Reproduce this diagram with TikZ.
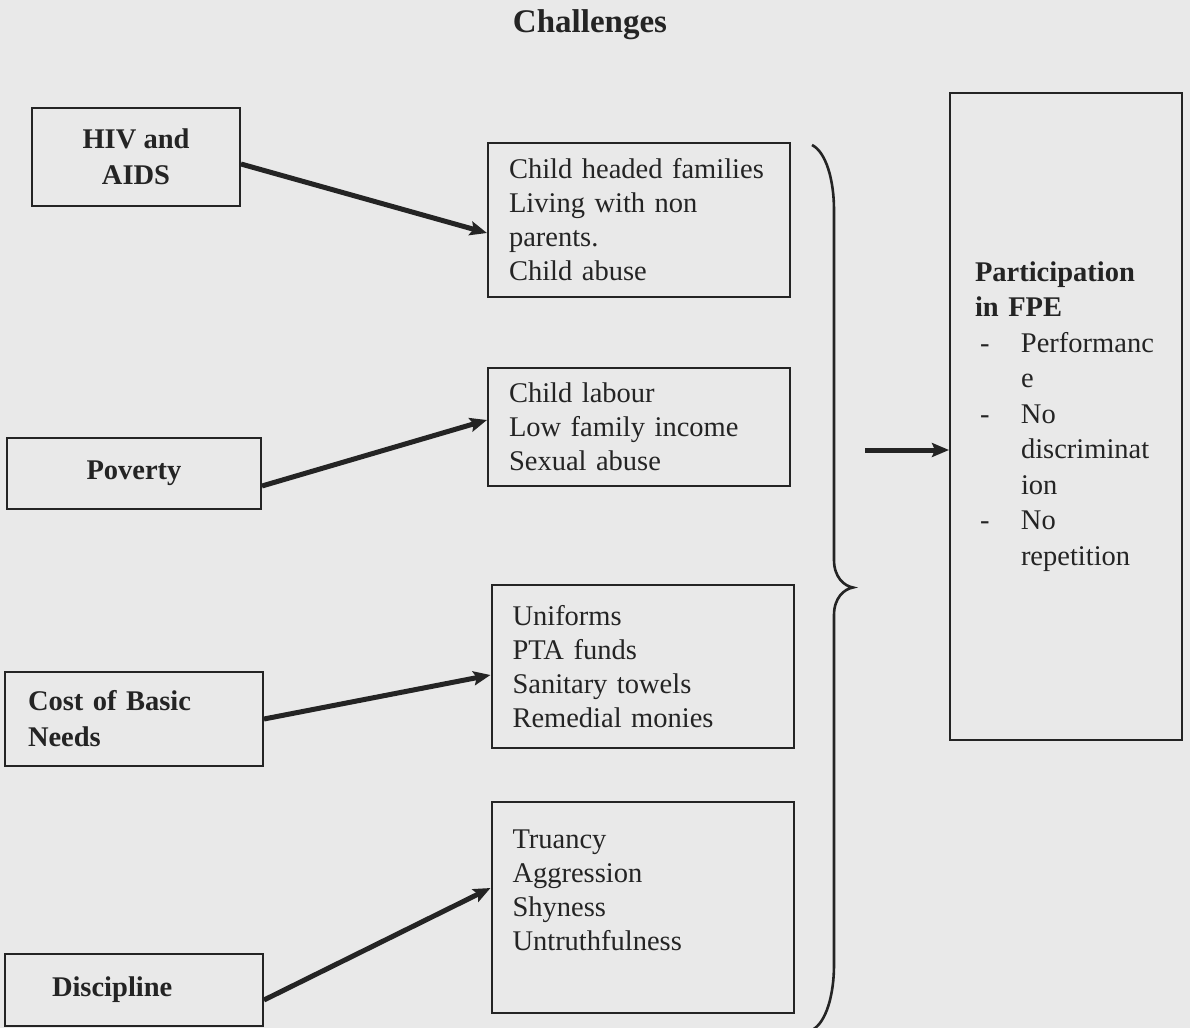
\documentclass[tikz,border=0pt]{standalone}
\usepackage{fontspec}
\setmainfont{Liberation Serif}
\usetikzlibrary{arrows.meta}

\definecolor{paper}{RGB}{233,233,233}
\definecolor{ink}{RGB}{36,36,36}

\newcommand{\fpedash}{\makebox[23pt][l]{\hspace{2.5pt}-}}
\newcommand{\fpegap}{\hspace*{23pt}}

\begin{document}
\begin{tikzpicture}[x=0.5pt,y=-0.5pt,
    box/.style={draw=ink, line width=1pt, text=ink, inner ysep=0pt,
        font=\fontsize{14.25}{17}\selectfont},
    cause/.style={box, font=\fontsize{14.25}{18}\selectfont\bfseries},
    effect/.style={box, minimum width=151pt, text width=130pt, inner xsep=10.5pt, align=left},
    link/.style={draw=ink, line width=2.5pt, -{Stealth[length=8.5pt,width=7pt,inset=1.5pt]}},
    curly/.style={draw=ink, line width=1.3pt}]
\fill[paper] (0,0) rectangle (1190,1028);
\useasboundingbox (0,0) rectangle (1190,1028);

% title
\node[text=ink, font=\fontsize{16.5}{19}\selectfont\bfseries] (title) at (590,25) {Challenges};

% causes
\node[cause, minimum width=104pt, minimum height=49pt, align=center] (hiv) at (136,157) {HIV and\\AIDS};
\node[cause, minimum width=127pt, minimum height=35.5pt] (poverty) at (134,473.5) {Poverty};
\node[cause, minimum width=129pt, minimum height=47pt, text width=106pt, inner xsep=11.5pt, align=left] (cost) at (134,719) {Cost of Basic\\Needs};
\node[cause, minimum width=129pt, minimum height=36pt, text width=82pt, inner xsep=23.5pt, align=left] (discipline) at (134,990) {Discipline};

% effects
\node[effect, minimum height=77pt] (heads) at (639,220) {Child headed families\\Living with non\\parents.\\Child abuse};
\node[effect, minimum height=59pt] (labour) at (639,427) {Child labour\\Low family income\\Sexual abuse};
\node[effect, minimum height=81.5pt] (fees) at (642.5,666.5) {Uniforms\\PTA funds\\Sanitary towels\\Remedial monies};
\node[effect, minimum height=105.5pt] (conduct) at (642.5,907.5) {Truancy\\Aggression\\Shyness\\Untruthfulness\\ \mbox{}};

% outcome
\node[box, font=\fontsize{14.25}{17.75}\selectfont, minimum width=116pt, minimum height=323.5pt,
    text width=91pt, inner xsep=12.5pt, align=left] (fpe) at (1066,416.5)
    {\textbf{Participation}\\\textbf{in FPE}\\\fpedash Performanc\\\fpegap e\\\fpedash No\\\fpegap discriminat\\\fpegap ion\\\fpedash No\\\fpegap repetition};

\foreach \a/\b/\sa/\sb in {hiv/heads/-3.5/-6.5, poverty/labour/-6.25/3.5,
        cost/fees/0/-4.25, discipline/conduct/-5/9.75}
    \draw[link] ([yshift=\sa pt]\a.east) -- ([yshift=\sb pt]\b.west);

% brace
\coordinate (bracetop) at (812,145);
\draw[curly] (bracetop) .. controls +(14,7) and +(0,-30) .. ++(22,65) -- ++(0,350)
    .. controls +(0,17) and +(-9,-1.5) .. ++(19,27.5) coordinate (bracetip)
    .. controls +(-9,1.5) and +(0,-17) .. ++(-19,27.5) -- ++(0,350)
    .. controls +(0,30) and +(14,-7) .. ++(-22,65) coordinate (bracebot);
\coordinate (braceout) at (865,450);
\draw[link] (braceout) -- (fpe.west |- braceout);
\end{tikzpicture}
\end{document}
